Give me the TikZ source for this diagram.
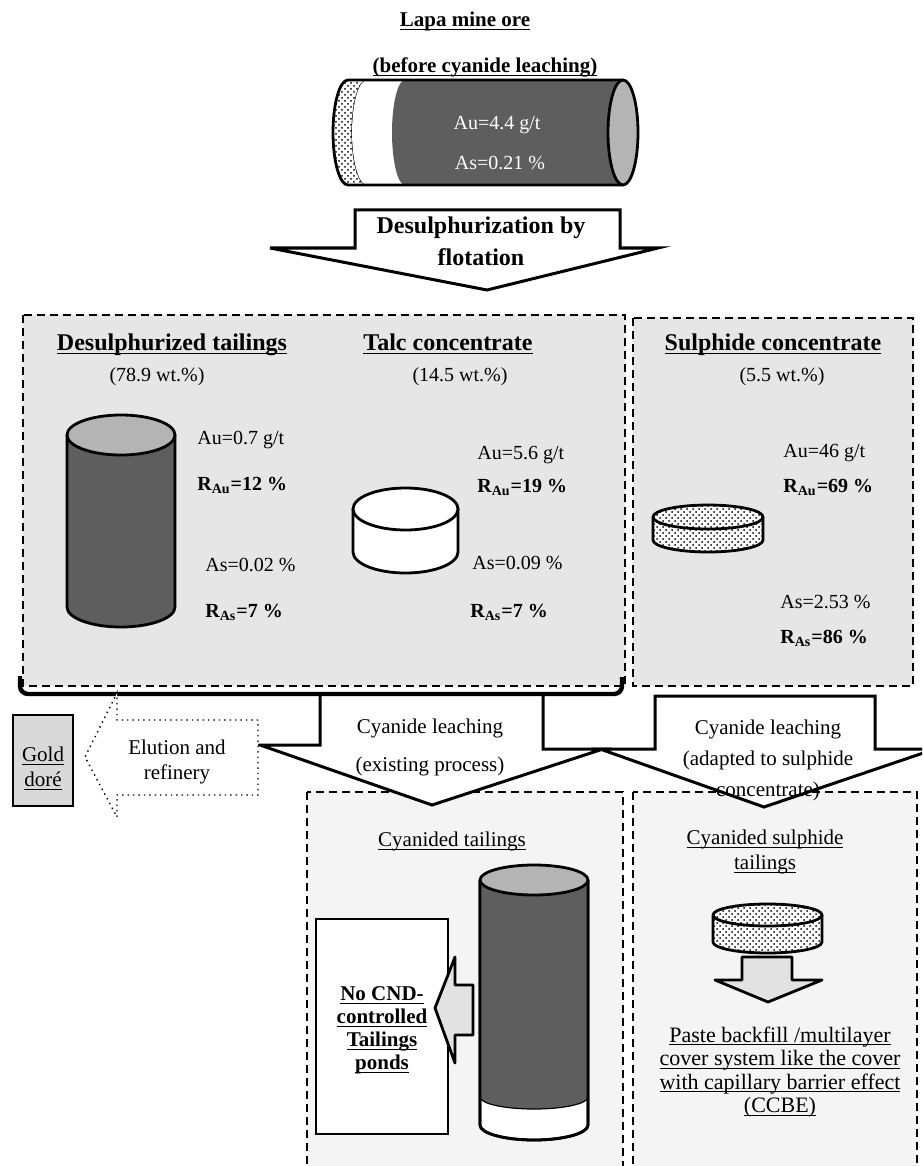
\documentclass[tikz,border=0pt]{standalone}
\usepackage{fontspec}
\setmainfont{Liberation Serif}
\usetikzlibrary{patterns}

\definecolor{darkbody}{HTML}{5E5E5E}
\definecolor{capgray}{HTML}{B4B4B4}
\definecolor{panel}{HTML}{E6E6E6}
\definecolor{panellight}{HTML}{F4F4F4}
\definecolor{goldfill}{HTML}{D9D9D9}
\definecolor{arrowgray}{HTML}{E2E2E2}

% underline just under the baseline, crossing the descenders
\newcommand{\uln}[1]{\underline{\vphantom{A}\smash{#1}}}

\tikzset{
  outline/.style={draw=black, line width=1.4pt, line join=round},
  thinline/.style={draw=black, line width=0.6pt},
  panelbox/.style={draw=black, line width=0.7pt, dash pattern=on 4pt off 2.5pt},
  bigarrow/.style={draw=black, fill=white, line width=1.5pt, line join=miter},
  heading/.style={font=\bfseries\fontsize{12}{14}\selectfont, inner sep=0pt},
  val/.style={font=\fontsize{10}{12}\selectfont, inner sep=0pt},
  valb/.style={font=\bfseries\fontsize{10}{12}\selectfont, inner sep=0pt},
  flowtext/.style={align=center, inner sep=0pt},
}

\begin{document}
\begin{tikzpicture}[x=0.5pt, y=-0.5pt]
\useasboundingbox (0,0) rectangle (922,1166);

% ---------- ore sample ----------
\node[font=\bfseries\fontsize{10.5}{12}\selectfont, inner sep=0pt] (title) at (465,22) {\uln{Lapa mine ore}};
\node[font=\bfseries\fontsize{10.5}{12}\selectfont, inner sep=0pt] (before) at (485,68) {\uln{(before cyanide leaching)}};

% horizontal cylinder: hatched end, white band, dark body, grey cap
\fill[white] (348,80) arc[start angle=270,end angle=90,x radius=15,y radius=52.5] -- (367,185)
  arc[start angle=90,end angle=270,x radius=15,y radius=52.5] -- cycle;
\fill[pattern=crosshatch dots] (348,80) arc[start angle=270,end angle=90,x radius=15,y radius=52.5] -- (367,185)
  arc[start angle=90,end angle=270,x radius=15,y radius=52.5] -- cycle;
\draw[thinline] (367,185) arc[start angle=90,end angle=270,x radius=15,y radius=52.5];
\fill[white] (367,80) arc[start angle=270,end angle=90,x radius=15,y radius=52.5] -- (405,185)
  arc[start angle=90,end angle=270,x radius=13,y radius=52.5] -- cycle;
\fill[darkbody] (405,80) arc[start angle=270,end angle=90,x radius=13,y radius=52.5] -- (623,185) -- (623,80) -- cycle;
\draw[outline] (623,80) -- (348,80) arc[start angle=270,end angle=90,x radius=15,y radius=52.5] -- (623,185);
\draw[outline, fill=capgray] (623,132.5) ellipse[x radius=15, y radius=52.5];
\node[val, text=white] (oreau) at (497,125) {Au=4.4 g/t};
\node[val, text=white] (oreas) at (500,163) {As=0.21 \%};

% ---------- flotation arrow ----------
\draw[bigarrow] (355,210) -- (620,210) -- (620,248) -- (658,248) -- (487,290) -- (270,248) -- (355,248) -- cycle;
\node[flowtext, font=\bfseries\fontsize{12}{16}\selectfont] (flot) at (481,241) {Desulphurization by\\flotation};

% ---------- flotation products ----------
\draw[panelbox, fill=panel] (23,315) rectangle (625,686);
\draw[panelbox, fill=panel] (633,318) rectangle (913,686);

\node[heading] (tailh) at (172,345) {\uln{Desulphurized tailings}};
\node[val] (tailwt) at (157,377) {(78.9 wt.\%)};
\draw[outline, fill=darkbody] (67,435) -- (67,607) arc[start angle=180,end angle=0,x radius=54,y radius=20] -- (175,435) -- cycle;
\draw[outline, fill=capgray] (121,435) ellipse[x radius=54, y radius=20];
\node[val, anchor=west] (tailau) at (197,440) {Au=0.7 g/t};
\node[valb, anchor=west] (tailrau) at (197,485) {R\textsubscript{Au}=12 \%};
\node[val, anchor=west] (tailas) at (205,565) {As=0.02 \%};
\node[valb, anchor=west] (tailras) at (205,612) {R\textsubscript{As}=7 \%};

\node[heading] (talch) at (448,345) {\uln{Talc concentrate}};
\node[val] (talcwt) at (460,377) {(14.5 wt.\%)};
\draw[outline, fill=white] (353,509) -- (353,552) arc[start angle=180,end angle=0,x radius=52.5,y radius=21] -- (458,509) -- cycle;
\draw[outline, fill=white] (405.5,509) ellipse[x radius=52.5, y radius=21];
\node[val, anchor=west] (talcau) at (477,455) {Au=5.6 g/t};
\node[valb, anchor=west] (talcrau) at (477,487) {R\textsubscript{Au}=19 \%};
\node[val, anchor=west] (talcas) at (472,563) {As=0.09 \%};
\node[valb, anchor=west] (talcras) at (470,612) {R\textsubscript{As}=7 \%};

\node[heading] (sulh) at (773,345) {\uln{Sulphide concentrate}};
\node[val] (sulwt) at (782,377) {(5.5 wt.\%)};
\fill[white] (653,517) -- (653,540) arc[start angle=180,end angle=0,x radius=55,y radius=12] -- (763,517) -- cycle;
\fill[pattern=crosshatch dots] (653,517) -- (653,540) arc[start angle=180,end angle=0,x radius=55,y radius=12] -- (763,517) -- cycle;
\draw[outline] (653,517) -- (653,540) arc[start angle=180,end angle=0,x radius=55,y radius=12] -- (763,517);
\fill[white] (708,517) ellipse[x radius=55, y radius=12];
\fill[pattern=crosshatch dots] (708,517) ellipse[x radius=55, y radius=12];
\draw[outline] (708,517) ellipse[x radius=55, y radius=12];
\node[val, anchor=west] (sulau) at (783,453) {Au=46 g/t};
\node[valb, anchor=west] (sulrau) at (783,487) {R\textsubscript{Au}=69 \%};
\node[val, anchor=west] (sulas) at (780,602) {As=2.53 \%};
\node[valb, anchor=west] (sulras) at (780,638) {R\textsubscript{As}=86 \%};

% ---------- leaching lower panels ----------
\begin{scope}
\clip (0,0) rectangle (922,1166);
\draw[panelbox, fill=panellight] (307,792) rectangle (623,1180);
\draw[panelbox, fill=panellight] (633,792) rectangle (917,1180);

% cyanide leaching arrows
\draw[bigarrow] (320,694) -- (320,745) -- (260,745) -- (432,805) -- (603,749) -- (543,749) -- (543,694);
\draw[bigarrow] (655,696) -- (875,696) -- (875,749) -- (935,749) -- (764,807) -- (600,749) -- (655,749) -- cycle;
\end{scope}
\draw[line width=2.2pt, rounded corners=4pt] (20,676) -- (20,694) -- (622,694) -- (622,677);

\node[flowtext, font=\fontsize{10.5}{19}\selectfont] (cyan1) at (430,747) {Cyanide leaching\\(existing process)};
\node[flowtext, font=\fontsize{10.5}{15.5}\selectfont] (cyan2) at (768,760) {Cyanide leaching\\(adapted to sulphide\\concentrate)};

% elution towards gold
\draw[draw=black, fill=white, line width=0.7pt, dotted] (258,720) -- (117,720) -- (117,693) -- (85,757) -- (117,817) -- (117,795) -- (258,795) -- cycle;
\node[flowtext, font=\fontsize{10.5}{12.5}\selectfont] (elution) at (177,762) {Elution and\\refinery};
\draw[draw=black, fill=goldfill, line width=0.8pt] (13,715) rectangle (73,806);
\node[flowtext, font=\fontsize{10.5}{12.5}\selectfont] (gold) at (43,769) {\uln{Gold}\\\uln{doré}};

% cyanided tailings
\node[flowtext, font=\fontsize{10.5}{12.5}\selectfont] (cyt) at (452,842) {\uln{Cyanided tailings}};
\draw[outline, fill=white] (480,880) -- (480,1125) arc[start angle=180,end angle=0,x radius=54,y radius=15] -- (588,880) -- cycle;
\fill[darkbody] (480,880) -- (480,1097) arc[start angle=180,end angle=0,x radius=54,y radius=12] -- (588,880) -- cycle;
\draw[thinline] (480,1097) arc[start angle=180,end angle=0,x radius=54,y radius=12];
\draw[outline] (480,880) -- (480,1125) arc[start angle=180,end angle=0,x radius=54,y radius=15] -- (588,880);
\draw[outline, fill=capgray] (534,880) ellipse[x radius=54, y radius=15];

\draw[thinline, fill=white] (316,919) rectangle (448,1134);
\draw[outline, fill=arrowgray] (473,985) -- (455,985) -- (455,957) -- (435,1008) -- (455,1063) -- (455,1035) -- (473,1035) -- cycle;
\node[flowtext, font=\bfseries\fontsize{10.5}{11.5}\selectfont] (ponds) at (382,1030)
  {\uln{No CND-}\\\uln{controlled}\\\uln{Tailings}\\\uln{ponds}};

% cyanided sulphide tailings
\node[flowtext, font=\fontsize{10.5}{12.5}\selectfont] (cst) at (765,852) {\uln{Cyanided sulphide}\\\uln{tailings}};
\fill[white] (713,915) -- (713,942) arc[start angle=180,end angle=0,x radius=54.5,y radius=11] -- (822,915) -- cycle;
\fill[pattern=crosshatch dots] (713,915) -- (713,942) arc[start angle=180,end angle=0,x radius=54.5,y radius=11] -- (822,915) -- cycle;
\draw[outline] (713,915) -- (713,942) arc[start angle=180,end angle=0,x radius=54.5,y radius=11] -- (822,915);
\fill[white] (767.5,915) ellipse[x radius=54.5, y radius=11];
\fill[pattern=crosshatch dots] (767.5,915) ellipse[x radius=54.5, y radius=11];
\draw[outline] (767.5,915) ellipse[x radius=54.5, y radius=11];
\draw[outline, fill=arrowgray] (742,957) -- (792,957) -- (792,980) -- (822,980) -- (768,1002) -- (715,980) -- (742,980) -- cycle;
\node[flowtext, font=\fontsize{11}{11.75}\selectfont] (paste) at (780,1072)
  {\uln{Paste backfill /multilayer}\\\uln{cover system like the cover}\\\uln{with capillary barrier effect}\\\uln{(CCBE)}};
\end{tikzpicture}
\end{document}
